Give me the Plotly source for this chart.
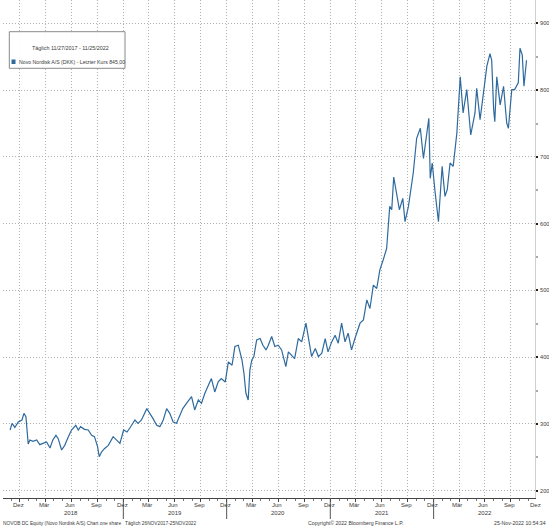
import plotly.graph_objects as go
import pandas as pd

# ---- data ----
dates = [
 "2017-11-27","2017-12-04","2017-12-14","2017-12-26","2018-01-08","2018-01-15","2018-01-22","2018-01-30",
 "2018-02-05","2018-02-16","2018-03-01","2018-03-12","2018-03-23","2018-04-05","2018-04-17","2018-04-27",
 "2018-05-08","2018-05-16","2018-05-28","2018-06-08","2018-06-20","2018-07-02","2018-07-17","2018-07-26",
 "2018-08-03","2018-08-17","2018-08-30","2018-09-11","2018-09-21","2018-10-02","2018-10-08","2018-10-16",
 "2018-10-26","2018-11-09","2018-11-26","2018-12-07","2018-12-20","2019-01-02","2019-01-14","2019-01-24",
 "2019-02-11","2019-02-22","2019-03-06","2019-03-25","2019-04-05","2019-04-16","2019-04-29","2019-05-10",
 "2019-05-22","2019-06-03","2019-06-14","2019-06-26","2019-07-08","2019-07-19","2019-07-30","2019-08-12",
 "2019-08-30","2019-09-10","2019-09-23","2019-10-04","2019-10-16","2019-11-08","2019-11-20","2019-12-02",
 "2019-12-13","2019-12-27","2020-01-07","2020-01-20","2020-01-30","2020-02-11","2020-02-24","2020-03-02",
 "2020-03-09","2020-03-17","2020-03-23","2020-03-30","2020-04-06","2020-04-16","2020-04-28","2020-05-08",
 "2020-05-19","2020-05-27","2020-06-08","2020-06-19","2020-07-01","2020-07-13","2020-07-28","2020-08-06",
 "2020-08-18","2020-08-28","2020-09-10","2020-09-22","2020-10-07","2020-10-15","2020-10-27","2020-11-09",
 "2020-11-20","2020-12-02","2020-12-14","2020-12-24","2021-01-06","2021-01-18","2021-01-29","2021-02-10",
 "2021-02-22","2021-03-05","2021-03-17","2021-03-29","2021-04-16","2021-04-28","2021-05-10","2021-05-21",
 "2021-06-02","2021-06-14","2021-06-25","2021-07-07","2021-07-19","2021-07-30","2021-08-06","2021-08-13",
 "2021-08-24","2021-09-02","2021-09-14","2021-09-22","2021-10-04","2021-10-21","2021-11-02","2021-11-15",
 "2021-11-26","2021-12-08","2021-12-15","2021-12-20","2021-12-27","2022-01-06","2022-01-18","2022-01-31",
 "2022-02-10","2022-02-18","2022-02-28","2022-03-11","2022-03-24","2022-04-05","2022-04-15","2022-04-28",
 "2022-05-12","2022-05-27","2022-06-02","2022-06-14","2022-06-28","2022-07-08","2022-07-19","2022-07-25",
 "2022-08-01","2022-08-05","2022-08-12","2022-08-24","2022-09-05","2022-09-16","2022-09-22","2022-10-04",
 "2022-10-14","2022-10-27","2022-11-02","2022-11-10","2022-11-16","2022-11-25",
]
prices = [
 291,301,295,303,306,316,311,270,
 276,274,276,269,271,273,264,276,
 283,278,261,268,280,291,298,291,
 296,292,291,283,281,266,251,258,
 263,268,281,276,271,291,288,294,
 306,301,306,323,316,308,298,296,
 306,323,316,303,301,311,323,331,
 341,321,336,331,346,368,348,363,
 368,363,393,388,416,418,396,376,
 346,336,381,396,401,426,428,418,
 411,418,431,416,418,411,386,408,
 403,398,428,423,451,431,401,413,
 401,406,428,408,423,433,421,451,
 423,436,411,428,451,456,486,473,
 508,503,531,546,563,626,621,670,
 641,621,638,603,626,676,728,743,
 698,741,758,668,691,648,603,686,
 641,651,691,686,736,820,766,801,
 733,766,803,756,801,836,855,845,
 771,753,820,778,806,751,743,801,
 801,811,863,853,806,845,
]

month_label_dates = ["2017-12-01","2018-03-01","2018-06-01","2018-09-01","2018-12-01","2019-03-01","2019-06-01",
                     "2019-09-01","2019-12-01","2020-03-01","2020-06-01","2020-09-01","2020-12-01","2021-03-01",
                     "2021-06-01","2021-09-01","2021-12-01","2022-03-01","2022-06-01","2022-09-01","2022-12-01"]
month_label_text = ["Dez"] + ["Mär", "Jun", "Sep", "Dez"] * 5
years = [2018, 2019, 2020, 2021, 2022]
y_ticks = [200, 300, 400, 500, 600, 700, 800, 900]

legend_title = "Täglich 11/27/2017 - 11/25/2022"
legend_series = "Novo Nordisk A/S (DKK) - Letzter Kurs 845,00"
footer_left = "NOVOB DC Equity (Novo Nordisk A/S) Chart one share   Täglich 26NOV2017-25NOV2022"
footer_mid = "Copyright© 2022 Bloomberg Finance L.P."
footer_right = "25-Nov-2022 10:54:34"

# ---- styling ----
W, H = 549, 531
ML, MR, MT, MB = 3, 14, 0, 33
FONT = "Liberation Sans Narrow, Liberation Sans, Arial"
LINE = "#2f6a9e"
GRID = "#b0b0b0"
TXT = "#3a3a3a"

def px(xp):
    return (xp - ML) / (W - ML - MR)

def py(yp):
    return (H - MB - yp) / (H - MT - MB)

fig = go.Figure()
fig.add_trace(go.Scatter(x=pd.to_datetime(dates), y=prices, mode="lines",
                         line=dict(color=LINE, width=1.2), showlegend=False, hoverinfo="skip"))

quarter_starts = pd.date_range("2018-01-01", "2022-10-01", freq="QS")

fig.update_layout(
    width=W, height=H, margin=dict(l=ML, r=MR, t=MT, b=MB, autoexpand=False),
    paper_bgcolor="white", plot_bgcolor="white",
    font=dict(family=FONT, size=7, color=TXT),
    xaxis=dict(type="date", range=["2017-11-02", "2022-12-25"],
               tickvals=list(quarter_starts), showticklabels=False,
               showgrid=True, gridcolor=GRID, griddash="1px,2px", gridwidth=1,
               ticks="outside", ticklen=3, tickcolor="#444",
               minor=dict(dtick="M1", tick0="2018-01-01", ticks="outside", ticklen=2,
                          tickcolor="#777", showgrid=False),
               showline=True, linecolor="#444", linewidth=1, zeroline=False, automargin=False),
    yaxis=dict(range=[189.1, 935.2], side="right", tickvals=y_ticks,
               showgrid=True, gridcolor=GRID, griddash="1px,2px", gridwidth=1,
               ticks="outside", ticklen=2, tickcolor="#222", tickwidth=1.5,
               minor=dict(dtick=50, tick0=150, ticks="outside", ticklen=2, tickcolor="#aaa", showgrid=False),
               showline=True, linecolor="#d0d0d0", linewidth=1, zeroline=False, automargin=False,
               tickfont=dict(size=5.6, color=TXT, family=FONT), ticklabelstandoff=1),
)

# month labels
for d, t in zip(month_label_dates, month_label_text):
    fig.add_annotation(x=d, xref="x", y=0, yref="paper", text=t, showarrow=False,
                       xanchor="left", yanchor="middle", yshift=-7,
                       font=dict(size=6, color=TXT, family=FONT))
# year labels and separators
for yr in years:
    fig.add_annotation(x=f"{yr}-07-01", xref="x", y=0, yref="paper", text=str(yr), showarrow=False,
                       xanchor="center", yanchor="middle", yshift=-15,
                       font=dict(size=6, color=TXT, family=FONT))
    if yr > 2018:
        fig.add_shape(type="line", xref="x", yref="paper", x0=f"{yr}-01-01", x1=f"{yr}-01-01",
                      y0=0, y1=py(519), line=dict(color="#555", width=1))

# legend box
fig.add_shape(type="rect", xref="paper", yref="paper", x0=px(9.3), x1=px(125), y0=py(68.3), y1=py(31.7),
              line=dict(color="#8a8a8a", width=1), fillcolor="rgba(255,255,255,0.9)")
fig.add_annotation(xref="paper", yref="paper", x=px(70), y=py(48), text=legend_title, showarrow=False,
                   xanchor="center", yanchor="middle", font=dict(size=5.4, color=TXT, family=FONT))
fig.add_shape(type="rect", xref="paper", yref="paper", x0=px(11.5), x1=px(15.5), y0=py(64), y1=py(59.5),
              line=dict(width=0), fillcolor=LINE)
fig.add_annotation(xref="paper", yref="paper", x=px(16.5), y=py(61.7), text=legend_series, showarrow=False,
                   xanchor="left", yanchor="middle", font=dict(size=5.2, color=TXT, family=FONT))

# footer
fig.add_annotation(xref="paper", yref="paper", x=px(1), y=0, yshift=-25, text=footer_left, showarrow=False,
                   xanchor="left", yanchor="middle", font=dict(size=4.8, color=TXT, family=FONT))
fig.add_annotation(xref="paper", yref="paper", x=px(355), y=0, yshift=-25, text=footer_mid, showarrow=False,
                   xanchor="center", yanchor="middle", font=dict(size=5.2, color=TXT, family=FONT))
fig.add_annotation(xref="paper", yref="paper", x=px(548), y=0, yshift=-25, text=footer_right, showarrow=False,
                   xanchor="right", yanchor="middle", font=dict(size=5.2, color=TXT, family=FONT))

fig.write_html("out.html", config={"displayModeBar": False},
               post_script="document.body.style.margin='0';document.body.style.overflow='hidden';")
